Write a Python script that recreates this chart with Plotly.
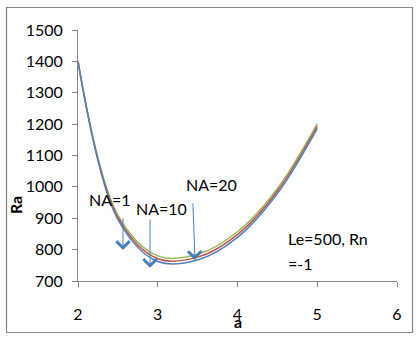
import plotly.graph_objects as go

# ---- data ----
a_values = [2.0, 2.5, 3.0, 3.5, 4.0, 4.5, 5.0]
ra_na1 = [1400, 910, 780, 785, 857, 995, 1202]   # green (top)
ra_na10 = [1400, 903, 771, 776, 848, 987, 1194]  # red (middle)
ra_na20 = [1400, 896, 762, 767, 839, 979, 1186]  # blue (bottom)
series_names = ["NA=1", "NA=10", "NA=20"]
x_ticks = [2, 3, 4, 5, 6]
y_ticks = [700, 800, 900, 1000, 1100, 1200, 1300, 1400, 1500]

FONT = "Lato"
colors = ["#9BBB59", "#C0504D", "#4F81BD"]

fig = go.Figure()
for name, ys, c in zip(series_names, [ra_na1, ra_na10, ra_na20], colors):
    fig.add_trace(go.Scatter(x=a_values, y=ys, mode="lines", name=name,
                             line=dict(color=c, width=1.5, shape="spline", smoothing=1)))

arrow_col = "#4A7EBB"
arrows = [((2.564, 799), (2.564, 904)),
          ((2.903, 742), (2.903, 901)),
          ((3.467, 767), (3.44, 952))]
for (tx, ty), (sx, sy) in arrows:
    fig.add_annotation(x=tx, y=ty, ax=sx, ay=sy, xref="x", yref="y", axref="x", ayref="y",
                       text="", showarrow=True, arrowhead=4, arrowsize=2.6, arrowwidth=1,
                       arrowcolor=arrow_col)

texts = [("NA=1", 2.395, 959), ("NA=10", 3.047, 932), ("NA=20", 3.68, 1007)]
for t, x, y in texts:
    fig.add_annotation(x=x, y=y, xref="x", yref="y", text=t, showarrow=False,
                       font=dict(family=FONT, size=16, color="#000000"))

fig.add_annotation(x=4.608, y=837, xref="x", yref="y", text="Le=500, Rn", showarrow=False,
                   xanchor="left", font=dict(family=FONT, size=16, color="#000000"))
fig.add_annotation(x=4.608, y=757, xref="x", yref="y", text="=-1", showarrow=False,
                   xanchor="left", font=dict(family=FONT, size=16, color="#000000"))

fig.add_annotation(x=4, y=-0.163, xref="x", yref="paper", text="<b>a</b>", showarrow=False,
                   xanchor="center", yanchor="middle",
                   font=dict(family=FONT, size=16, color="#000000"))
fig.add_annotation(x=-0.194, y=0.303, xref="paper", yref="paper", text="<b>Ra</b>", showarrow=False,
                   textangle=-90, xanchor="center", yanchor="middle",
                   font=dict(family=FONT, size=16, color="#000000"))

# outer border drawn as an svg path in paper coordinates
W, H = 417, 339
L, R, T, B = 78, 20, 30, 58
pw, ph = W - L - R, H - T - B
def px(xp):
    return (xp - L) / pw
def py(yp):
    return (H - B - yp) / ph
path = "M {:.4f},{:.4f} L {:.4f},{:.4f} L {:.4f},{:.4f} L {:.4f},{:.4f} Z".format(
    px(6.5), py(7.5), px(412.5), py(7.5), px(412.5), py(332.5), px(6.5), py(332.5))
fig.add_shape(type="path", path=path, xref="paper", yref="paper",
              line=dict(color="#868686", width=1.2), fillcolor="rgba(0,0,0,0)", layer="above")

axis_common = dict(showgrid=False, zeroline=False, showline=True, linecolor="#868686", linewidth=1,
                   ticks="outside", ticklen=5, tickcolor="#868686", tickwidth=1,
                   tickfont=dict(family=FONT, size=16, color="#000000"))
fig.update_layout(
    width=W, height=H,
    margin=dict(l=L, r=R, t=T, b=B),
    paper_bgcolor="white", plot_bgcolor="white",
    showlegend=False,
    xaxis=dict(range=[2, 6], tickvals=x_ticks, ticklabelstandoff=14, **axis_common),
    yaxis=dict(range=[700, 1500], tickvals=y_ticks, ticklabelstandoff=6, **axis_common),
)
fig.write_html("out.html", config={"displayModeBar": False},
               post_script="document.body.style.margin='0';document.body.style.overflow='hidden';")
